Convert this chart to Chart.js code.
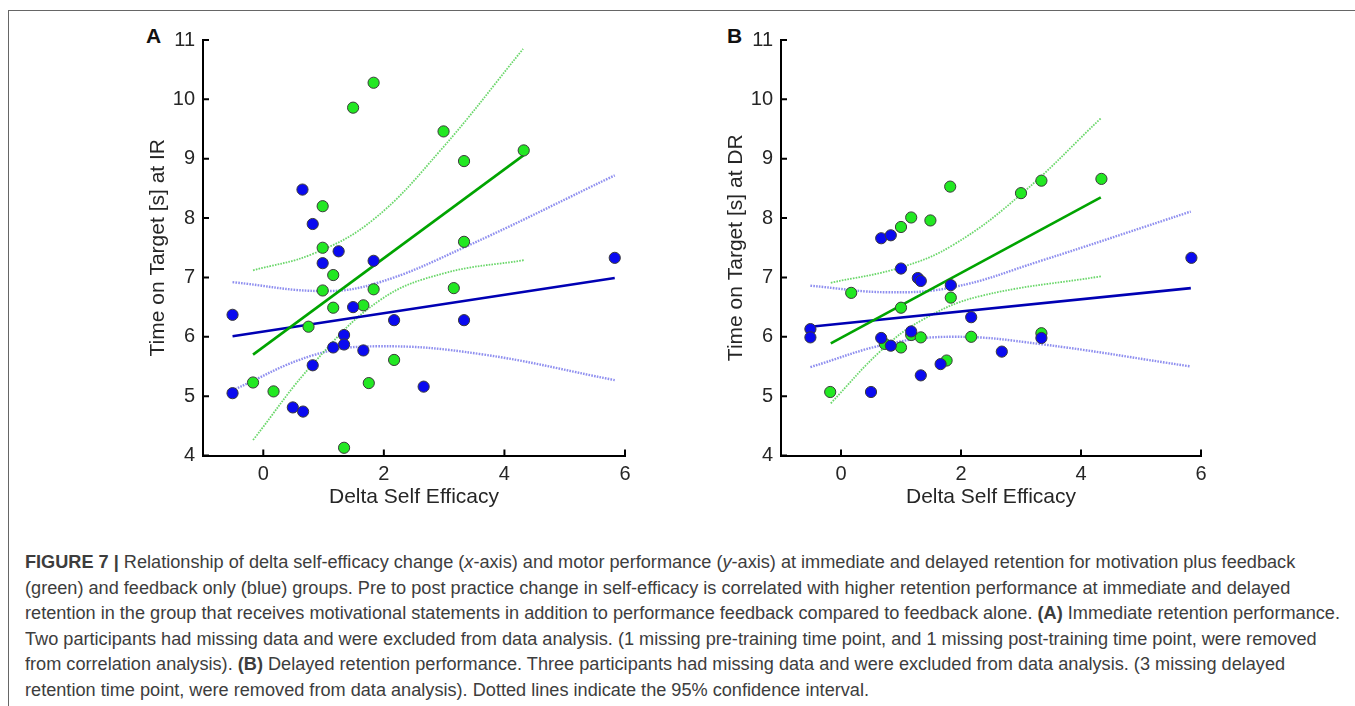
<!DOCTYPE html>
<html>
<head>
<meta charset="utf-8">
<script src="https://cdn.jsdelivr.net/npm/chart.js@4.4.1/dist/chart.umd.min.js"></script>
<style>
  html, body { margin:0; padding:0; background:#fff; }
  body { width:1355px; height:706px; position:relative; overflow:hidden; font-family:"Liberation Sans", Arial, sans-serif; }
  .frame { position:absolute; left:8px; top:10px; width:1360px; height:720px; border-top:1px solid #666; border-left:1px solid #666; }
  .cv { position:absolute; }
  .panel { position:absolute; font-weight:bold; font-size:21px; color:#111; }
  #caption { position:absolute; left:25px; top:550px; color:#3d3d3d; font-size:17.5px; line-height:25.6px; transform-origin:0 0; }
  #caption div { white-space:nowrap; }
</style>
</head>
<body>
<div class="frame"></div>
<div class="panel" style="left:146px; top:24px;">A</div>
<div class="panel" style="left:727px; top:24px;">B</div>
<canvas id="cA" class="cv" style="left:130px; top:20px;" width="510" height="494"></canvas>
<canvas id="cB" class="cv" style="left:708px; top:20px;" width="510" height="494"></canvas>
<div id="caption">
<div><b>FIGURE 7 |</b> Relationship of delta self-efficacy change (<i>x</i>-axis) and motor performance (<i>y</i>-axis) at immediate and delayed retention for motivation plus feedback</div>
<div>(green) and feedback only (blue) groups. Pre to post practice change in self-efficacy is correlated with higher retention performance at immediate and delayed</div>
<div id="cl3">retention in the group that receives motivational statements in addition to performance feedback compared to feedback alone. <b>(A)</b> Immediate retention performance.</div>
<div>Two participants had missing data and were excluded from data analysis. (1 missing pre-training time point, and 1 missing post-training time point, were removed</div>
<div>from correlation analysis). <b>(B)</b> Delayed retention performance. Three participants had missing data and were excluded from data analysis. (3 missing delayed</div>
<div>retention time point, were removed from data analysis). Dotted lines indicate the 95% confidence interval.</div>
</div>
<script>
// ---------- Tick labels ----------
const xTickValues = [0, 2, 4, 6];
const yTickValues = [4, 5, 6, 7, 8, 9, 10, 11];

// ---------- Panel A (immediate retention) ----------
const blueAx = [-0.51, -0.51, 0.49, 0.66, 0.65, 0.82, 0.82, 0.985, 1.25, 1.16, 1.34, 1.34, 1.49, 1.66, 1.83, 2.17, 2.66, 3.33, 5.83];
const blueAy = [6.37, 5.05, 4.81, 4.74, 8.48, 7.90, 5.52, 7.24, 7.44, 5.82, 6.03, 5.87, 6.50, 5.77, 7.28, 6.28, 5.16, 6.28, 7.33];
const greenAx = [-0.17, 0.17, 0.75, 0.985, 0.985, 0.985, 1.16, 1.16, 1.34, 1.49, 1.66, 1.75, 1.83, 1.83, 2.17, 2.99, 3.16, 3.33, 3.33, 4.32];
const greenAy = [5.23, 5.08, 6.17, 8.20, 7.50, 6.78, 7.04, 6.49, 4.13, 9.86, 6.53, 5.22, 10.28, 6.80, 5.61, 9.46, 6.82, 8.96, 7.60, 9.14];
const greenFitAx = [-0.17, 4.32];
const greenFitAy = [5.70, 9.06];
const blueFitAx = [-0.51, 5.83];
const blueFitAy = [6.01, 6.99];
const greenUpAx = [-0.17, 0.83, 1.82, 2.93, 4.31];
const greenUpAy = [7.12, 7.40, 7.97, 9.13, 10.85];
const greenLoAx = [-0.17, 0.83, 1.94, 3.0, 4.32];
const greenLoAy = [4.26, 5.55, 6.62, 7.07, 7.29];
const blueUpAx = [-0.51, 0.985, 1.9, 3.32, 5.83];
const blueUpAy = [6.92, 6.77, 6.91, 7.50, 8.72];
const blueLoAx = [-0.51, 0.83, 1.9, 3.59, 5.83];
const blueLoAy = [5.10, 5.69, 5.84, 5.71, 5.27];

// ---------- Panel B (delayed retention) ----------
const blueBx = [-0.51, -0.51, 0.5, 0.67, 0.67, 0.83, 0.83, 1.0, 1.17, 1.28, 1.33, 1.33, 1.66, 1.83, 2.17, 2.68, 3.34, 5.84];
const blueBy = [6.13, 5.99, 5.07, 7.66, 5.98, 7.71, 5.85, 7.15, 6.09, 6.99, 6.94, 5.35, 5.54, 6.87, 6.33, 5.75, 5.98, 7.33];
const greenBx = [-0.18, 0.17, 0.73, 1.0, 1.0, 1.0, 1.17, 1.17, 1.33, 1.49, 1.76, 1.82, 1.83, 2.17, 3.0, 3.34, 3.34, 4.34];
const greenBy = [5.07, 6.74, 5.88, 7.85, 6.49, 5.82, 8.01, 6.03, 5.99, 7.96, 5.60, 8.53, 6.66, 6.00, 8.42, 8.63, 6.06, 8.66];
const greenFitBx = [-0.17, 4.33];
const greenFitBy = [5.89, 8.35];
const blueFitBx = [-0.51, 5.83];
const blueFitBy = [6.17, 6.82];
const greenUpBx = [-0.17, 1.0, 1.89, 3.0, 4.33];
const greenUpBy = [6.91, 7.17, 7.56, 8.40, 9.68];
const greenLoBx = [-0.17, 0.67, 1.33, 2.3, 4.34];
const greenLoBy = [4.88, 5.77, 6.27, 6.68, 7.02];
const blueUpBx = [-0.51, 0.78, 1.89, 3.3, 5.83];
const blueUpBy = [6.86, 6.75, 6.84, 7.27, 8.11];
const blueLoBx = [-0.51, 0.78, 1.89, 3.3, 5.83];
const blueLoBy = [5.49, 5.88, 6.00, 5.88, 5.50];

// ---------- styling ----------
const GREEN_PT = '#22e822', BLUE_PT = '#0a0af0';
const GREEN_FIT = '#00a400', BLUE_FIT = '#0000b4';
const GREEN_CI = 'rgba(70,205,70,0.8)', BLUE_CI = 'rgba(115,115,235,0.8)';
const FONT = '"Liberation Sans", Arial, sans-serif';
const TXT = '#262626';

const pts = (xs, ys) => xs.map((x, i) => ({x: x, y: ys[i]}));

function scatterSet(xs, ys, fill) {
  return { data: pts(xs, ys), backgroundColor: fill, borderColor: '#3a3a3a', borderWidth: 1,
           pointRadius: 5.6, pointHoverRadius: 5.6, showLine: false };
}
function lineSet(xs, ys, color, width, dash, curve) {
  return { data: pts(xs, ys), borderColor: color, borderWidth: width, borderDash: dash || [],
           pointRadius: 0, showLine: true, fill: false, tension: curve ? 0.4 : 0 };
}

const inwardTicks = {
  id: 'inwardTicks',
  afterDraw(chart) {
    const ctx = chart.ctx, a = chart.chartArea;
    const xs = chart.scales.x, ys = chart.scales.y;
    ctx.save();
    ctx.strokeStyle = '#000';
    ctx.lineWidth = 2;
    ctx.beginPath();
    xTickValues.forEach(v => { const p = xs.getPixelForValue(v); ctx.moveTo(p, a.bottom); ctx.lineTo(p, a.bottom - 6); });
    yTickValues.forEach(v => { const p = ys.getPixelForValue(v); ctx.moveTo(a.left, p); ctx.lineTo(a.left + 6, p); });
    ctx.stroke();
    ctx.restore();
  }
};

function makeChart(id, yTitle, sets, padRight) {
  new Chart(document.getElementById(id), {
    type: 'scatter',
    data: { datasets: sets },
    options: {
      responsive: false, animation: false, events: [],
      layout: { padding: { left: 12, top: 18, right: padRight, bottom: 0 } },
      plugins: { legend: { display: false }, tooltip: { enabled: false } },
      scales: {
        x: {
          type: 'linear', min: -1, max: 6,
          afterBuildTicks: s => { s.ticks = xTickValues.map(v => ({value: v})); },
          afterFit: s => { s.height = 58.5; },
          grid: { display: true, drawOnChartArea: false, drawTicks: false },
          border: { display: true, color: '#000', width: 2 },
          ticks: { color: TXT, font: { family: FONT, size: 20 }, padding: 7, maxRotation: 0 },
          title: { display: true, text: 'Delta Self Efficacy', color: TXT, font: { family: FONT, size: 21 }, padding: 4 }
        },
        y: {
          type: 'linear', min: 4, max: 11,
          afterBuildTicks: s => { s.ticks = yTickValues.map(v => ({value: v})); },
          afterFit: s => { s.width = 61; },
          grid: { display: true, drawOnChartArea: false, drawTicks: false },
          border: { display: true, color: '#000', width: 2 },
          ticks: { color: TXT, font: { family: FONT, size: 20 }, padding: 8 },
          title: { display: true, text: yTitle, color: TXT, font: { family: FONT, size: 21 }, padding: 4 }
        }
      }
    },
    plugins: [inwardTicks]
  });
}

makeChart('cA', 'Time on Target [s] at IR', [
  scatterSet(blueAx, blueAy, BLUE_PT),
  scatterSet(greenAx, greenAy, GREEN_PT),
  lineSet(greenFitAx, greenFitAy, GREEN_FIT, 2.6),
  lineSet(blueFitAx, blueFitAy, BLUE_FIT, 2.6),
  lineSet(greenUpAx, greenUpAy, GREEN_CI, 1.8, [1.6, 1.2], true),
  lineSet(greenLoAx, greenLoAy, GREEN_CI, 1.8, [1.6, 1.2], true),
  lineSet(blueUpAx, blueUpAy, BLUE_CI, 2.4, [1.6, 1.2], true),
  lineSet(blueLoAx, blueLoAy, BLUE_CI, 2.4, [1.6, 1.2], true)
], 15);

makeChart('cB', 'Time on Target [s] at DR', [
  scatterSet(blueBx, blueBy, BLUE_PT),
  scatterSet(greenBx, greenBy, GREEN_PT),
  lineSet(greenFitBx, greenFitBy, GREEN_FIT, 2.6),
  lineSet(blueFitBx, blueFitBy, BLUE_FIT, 2.6),
  lineSet(greenUpBx, greenUpBy, GREEN_CI, 1.8, [1.6, 1.2], true),
  lineSet(greenLoBx, greenLoBy, GREEN_CI, 1.8, [1.6, 1.2], true),
  lineSet(blueUpBx, blueUpBy, BLUE_CI, 2.4, [1.6, 1.2], true),
  lineSet(blueLoBx, blueLoBy, BLUE_CI, 2.4, [1.6, 1.2], true)
], 17);

// fit caption width to the reference line length
(function () {
  const cap = document.getElementById('caption');
  const l3 = document.getElementById('cl3');
  const w = l3.getBoundingClientRect().width;
  const target = 1315;
  cap.style.transform = 'scaleX(' + (target / w) + ')';
})();
</script>
</body>
</html>
